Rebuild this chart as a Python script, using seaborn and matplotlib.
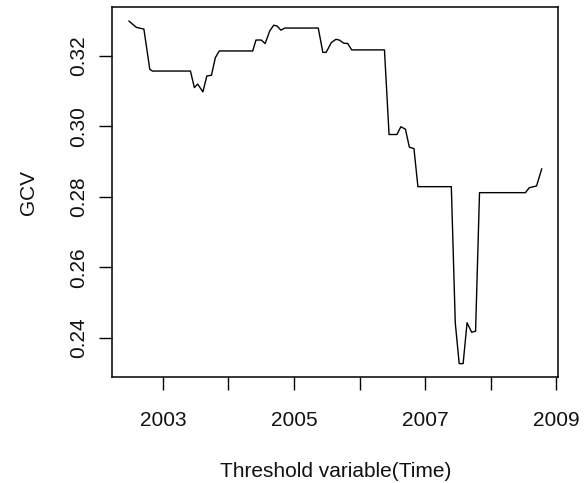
import matplotlib
matplotlib.use("Agg")
import matplotlib.pyplot as plt
import seaborn as sns
import pandas as pd

# Data
time = [2002.48, 2002.595, 2002.71, 2002.80, 2002.84, 2003.42, 2003.48, 2003.53,
        2003.61, 2003.67, 2003.74, 2003.80, 2003.86, 2004.37, 2004.42, 2004.50,
        2004.56, 2004.63, 2004.69, 2004.74, 2004.80, 2004.86, 2005.37, 2005.44,
        2005.49, 2005.57, 2005.64, 2005.69, 2005.76, 2005.82, 2005.88, 2006.38,
        2006.45, 2006.57, 2006.63, 2006.70, 2006.76, 2006.83, 2006.89, 2007.40,
        2007.46, 2007.52, 2007.58, 2007.64, 2007.71, 2007.77, 2007.83, 2008.53,
        2008.59, 2008.70, 2008.78]
gcv = [0.3299, 0.3281, 0.3276, 0.3162, 0.3157, 0.3157, 0.3110, 0.3120,
       0.3098, 0.3143, 0.3145, 0.3195, 0.3214, 0.3214, 0.3245, 0.3245,
       0.3235, 0.3271, 0.3287, 0.3285, 0.3273, 0.3279, 0.3279, 0.3210,
       0.3210, 0.3238, 0.3247, 0.3245, 0.3236, 0.3235, 0.3217, 0.3217,
       0.2977, 0.2977, 0.2999, 0.2992, 0.2941, 0.2937, 0.2829, 0.2829,
       0.2443, 0.2327, 0.2327, 0.2443, 0.2416, 0.2419, 0.2812, 0.2812,
       0.2826, 0.2831, 0.2880]
x_ticks = [2003, 2004, 2005, 2006, 2007, 2008, 2009]
x_tick_labels = ["2003", "", "2005", "", "2007", "", "2009"]
y_ticks = [0.24, 0.26, 0.28, 0.30, 0.32]
y_tick_labels = ["0.24", "0.26", "0.28", "0.30", "0.32"]

sns.set_style("white")
plt.rcParams['font.family'] = ['Liberation Sans', 'DejaVu Sans']

df = pd.DataFrame({"time": time, "gcv": gcv})

fig = plt.figure(figsize=(5.84, 4.83), dpi=100)
ax = fig.add_axes([0.1923, 0.2188, 0.9560 - 0.1923, 0.9849 - 0.2188])
sns.lineplot(data=df, x="time", y="gcv", ax=ax, color="black", linewidth=1.0,
             estimator=None, sort=False)

def padded(lo, hi):
    r = hi - lo
    return lo - 0.04 * r, hi + 0.04 * r

ax.set_xlim(*padded(min(time), max(time)))
ax.set_ylim(*padded(min(gcv), max(gcv)))

ax.set_xticks(x_ticks)
ax.set_xticklabels(x_tick_labels, fontsize=15)
ax.set_yticks(y_ticks)
ax.set_yticklabels(y_tick_labels, fontsize=15, rotation=90, va="center")
ax.tick_params(axis="both", direction="out", length=9.5, width=1.0, color="black",
               bottom=True, left=True, labelcolor="#111111")
ax.tick_params(axis="x", pad=15)
ax.tick_params(axis="y", pad=8)

for s in ax.spines.values():
    s.set_visible(True)
    s.set_color("black")
    s.set_linewidth(1.1)

ax.set_xlabel("Threshold variable(Time)", fontsize=15, color="#111111", labelpad=23)
ax.set_ylabel("GCV", fontsize=15, color="#111111", labelpad=22)

fig.savefig("out.png", dpi=100, facecolor="white")
